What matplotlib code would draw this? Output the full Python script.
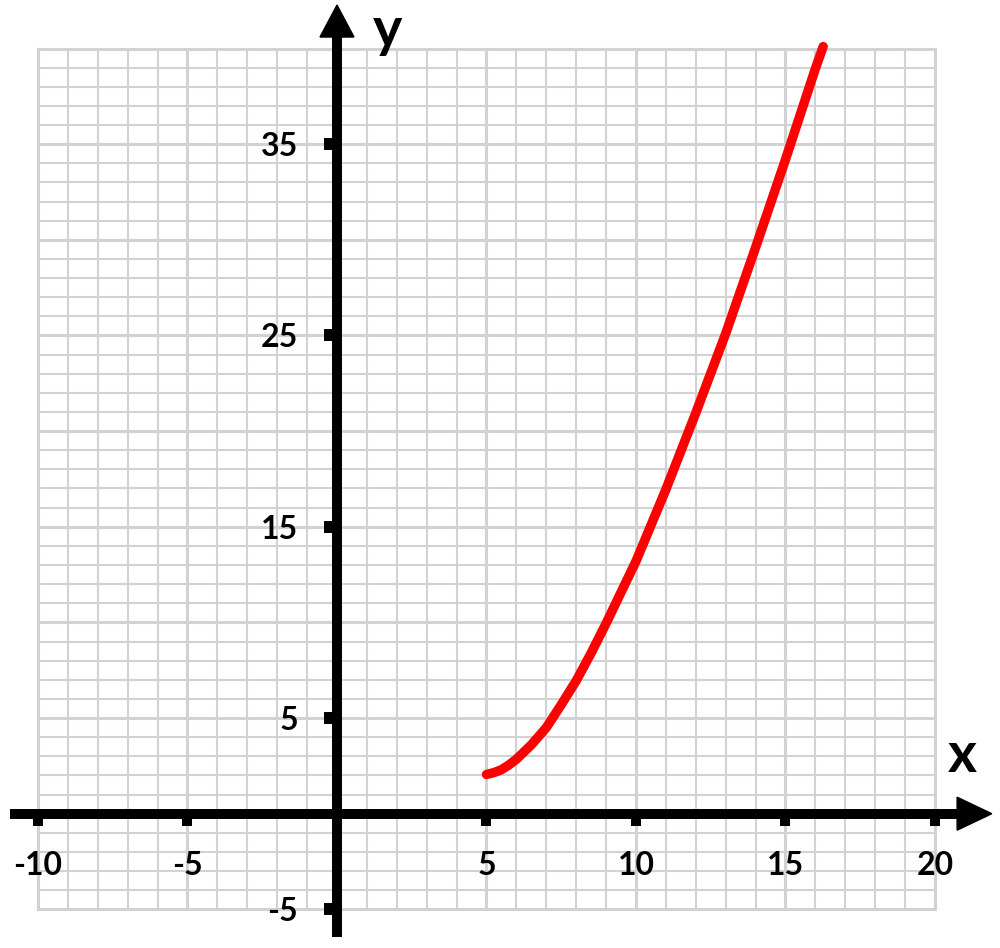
import matplotlib.pyplot as plt
from matplotlib.patches import Polygon

# curve values
curve_x = [5.0, 5.25, 5.5, 5.75, 6.0, 6.5, 7.0, 7.5, 8.0, 8.5, 9.0, 10.0, 11.0, 12.0, 13.0, 14.0, 15.0, 16.0, 16.26]
curve_y = [2.05, 2.15, 2.3, 2.55, 2.85, 3.6, 4.5, 5.7, 6.95, 8.4, 9.95, 13.2, 16.95, 20.95, 25.1, 29.6, 34.2, 38.95, 40.1]

xtick_vals = [-10, -5, 5, 10, 15, 20]
xtick_labels = ["-10", "-5", "5", "10", "15", "20"]
ytick_vals = [-5, 5, 15, 25, 35]
ytick_labels = ["-5", "5", "15", "25", "35"]

# pixel scale of the reference (px per unit, origin in px)
X0, SX = 337.0, 29.9
Y0, SY = 813.7, 19.13
W, H = 1000, 948

def px(n):
    return n / SX

def py(n):
    return n / SY

fig = plt.figure(figsize=(W / 100, H / 100), dpi=100)
ax = fig.add_axes([0, 0, 1, 1])
ax.set_xlim(-X0 / SX, (W - X0) / SX)
ax.set_ylim((Y0 - H) / SY, Y0 / SY)
ax.axis("off")

grid_col = "#d2d2d2"
for gx in range(-10, 21):
    ax.plot([gx, gx], [-5, 40], color=grid_col, lw=2.2 if gx % 5 == 0 else 1.5, zorder=1)
for gy in range(-5, 41):
    ax.plot([-10, 20], [gy, gy], color=grid_col, lw=2.2 if gy % 5 == 0 else 1.5, zorder=1)

# axes lines
ax_lw = 7.2
x_head_base = 20.74
y_head_base = 40.6
ax.plot([-10.94, x_head_base + 0.05], [0, 0], color="black", lw=ax_lw, solid_capstyle="butt", zorder=3)
ax.plot([0, 0], [-6.45, y_head_base + 0.05], color="black", lw=ax_lw, solid_capstyle="butt", zorder=3)

# arrow heads
ax.add_patch(Polygon([[x_head_base, py(16.5)], [x_head_base, -py(16.5)], [21.9, 0]],
                     closed=True, color="black", zorder=3))
ax.add_patch(Polygon([[-px(17), y_head_base], [px(17), y_head_base], [0, 42.27]],
                     closed=True, color="black", zorder=3))

# tick marks and labels
font = "Lato"
lab_w = "bold"
for v, lab in zip(xtick_vals, xtick_labels):
    ax.plot([v, v], [0, -py(12.5)], color="black", lw=7.2, solid_capstyle="butt", zorder=3)
    ax.text(v, -py(61), lab, ha="center", va="baseline", fontsize=23, family=font,
            fontweight=lab_w, zorder=4)
for v, lab in zip(ytick_vals, ytick_labels):
    ax.plot([0, -px(13)], [v, v], color="black", lw=8.6, solid_capstyle="butt", zorder=3)
    ax.text(-px(39), v - py(12), lab, ha="right", va="baseline", fontsize=23, family=font,
            fontweight=lab_w, zorder=4)

ax.text(20.9, py(Y0 - 772), "x", ha="center", va="baseline", fontsize=40,
        fontweight="bold", family=font, zorder=4)
ax.text(px(387 - X0), py(Y0 - 47), "y", ha="center", va="baseline", fontsize=40,
        fontweight="bold", family=font, zorder=4)

# the red curve
ax.plot(curve_x, curve_y, color="#ff0000", lw=6.8, solid_capstyle="round",
        solid_joinstyle="round", zorder=2)

fig.savefig("out.png", dpi=100)
